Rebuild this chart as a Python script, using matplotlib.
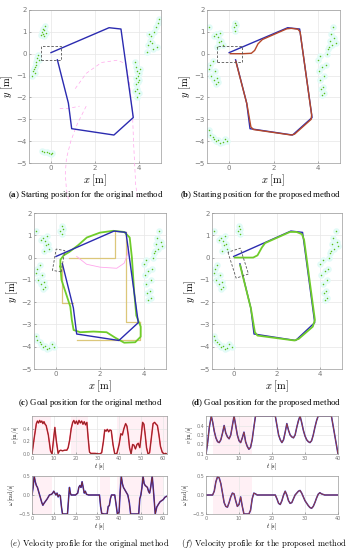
import numpy as np
import matplotlib
matplotlib.use('Agg')
import matplotlib.pyplot as plt
from matplotlib.patches import Rectangle

plt.rcParams['mathtext.fontset'] = 'custom'
plt.rcParams['mathtext.rm'] = 'Liberation Serif'
plt.rcParams['mathtext.bf'] = 'Liberation Serif:bold'
plt.rcParams['mathtext.it'] = 'Liberation Serif:italic'

# ---- data ----
# waypoints (blue polygon), same in all four maps
wp_x = [0.0, 2.64, 3.18, 3.74, 2.86, 0.94, 0.79, 0.29]
wp_y = [0.05, 1.19, 1.13, -2.92, -3.72, -3.43, -2.26, -0.28]

# lidar points, panel (a)
obs_a_x = [-0.45, -0.4, -0.35, -0.3, -0.28, -0.25, -0.38, -0.32,
           -0.85, -0.8, -0.75, -0.7, -0.72, -0.65, -0.6, -0.68, -0.78, -0.55,
           3.82, 3.85, 3.9, 3.95, 4.0, 3.88, 3.92, 3.98, 4.05, 3.86, 3.94, 4.02, 3.9, 3.84,
           4.35, 4.4, 4.5, 4.55, 4.6, 4.7, 4.75, 4.8, 4.85, 4.9, 4.45, 4.65,
           -0.4, -0.3, -0.2, -0.1, 0.0, 0.05]
obs_a_y = [0.85, 1.0, 0.9, 1.1, 1.25, 0.95, 1.15, 0.8,
           -1.0, -0.8, -0.6, -0.4, -0.9, -0.2, -0.05, -0.5, -0.7, -0.3,
           -0.4, -0.6, -0.8, -1.0, -1.2, -1.4, -1.6, -1.8, -0.7, -1.1, -1.3, -0.9, -2.0, -1.7,
           0.1, 0.4, 0.6, 0.8, 0.5, 1.0, 1.2, 0.3, 1.4, 1.6, 0.9, 0.2,
           -4.45, -4.5, -4.48, -4.55, -4.6, -4.52]

# lidar points, panels (b)-(d)
obs_x = [-0.7, -0.6, -0.5, -0.45, -0.35, -0.3, -0.55, -0.4, -0.9, 0.2, 0.25, 0.3, 0.28,
         -0.9, -0.85, -0.8, -0.7, -0.65, -0.6, -0.55, -0.75, -0.5,
         -0.9, -0.85, -0.7, -0.6, -0.5, -0.4, -0.3, -0.2, -0.1, -0.75,
         4.0, 4.05, 4.1, 4.15, 4.2, 4.25, 4.3, 4.35, 4.4, 4.5, 4.55, 4.6, 4.65,
         4.7, 4.75, 4.8, 4.45, 4.1, 4.2, 4.3]
obs_y = [0.8, 0.9, 0.75, 0.55, 0.6, 0.4, 0.3, 0.95, 1.2, 1.2, 1.4, 1.3, 1.05,
         -0.7, -0.5, -1.0, -1.2, -0.8, -1.4, -1.1, -0.35, -1.3,
         -3.5, -3.7, -3.9, -4.0, -3.95, -4.1, -4.05, -3.9, -4.0, -3.8,
         -0.3, -0.8, -1.2, -1.6, -1.9, -1.5, -1.0, -0.5, 0.0, 0.3, 0.6, 0.9, 0.4,
         1.2, 0.7, 0.5, 0.2, -0.1, -0.6, -1.8]

# robot footprint: centre x, centre y, width, height, angle
robot_a = (0.0, 0.03, 0.95, 0.68, 0)
robot_b = (0.02, -0.01, 1.12, 0.74, 0)
robot_c = (0.12, -0.13, 0.97, 0.4, 80)
robot_d = (0.21, -0.25, 1.22, 0.6, -72)

# pink dashed traces in (a) and (c)
pinkA_x = [1.1, 1.6, 2.3, 3.0, 3.4, 3.55, 3.7, 3.75, 3.8, 3.85, 3.95]
pinkA_y = [-1.6, -0.9, -0.4, -0.3, -0.45, -1.2, -2.6, -4.0, -5.0, -6.0, -6.7]
pinkB_x = [1.6, 1.2, 0.9, 0.7, 0.65, 0.7, 0.8]
pinkB_y = [-2.4, -3.2, -4.0, -4.8, -5.5, -6.2, -6.7]
pinkC_x = [0.4, 0.8, 1.3]
pinkC_y = [-2.5, -2.5, -2.4]
pinkD_x = [0.94, 1.39, 2.0, 2.76, 3.1, 3.24, 3.3]
pinkD_y = [0.05, -0.3, -0.43, -0.48, -0.25, 0.12, 0.5]

# proposed method path (b)
path_b_x = [0.05, 0.6, 1.0, 1.15, 1.3, 1.5, 2.6, 2.8, 3.1, 3.2, 3.72, 3.7, 2.95, 2.8,
            1.1, 0.98, 0.8, 0.3]
path_b_y = [0.0, 0.0, 0.02, 0.15, 0.45, 0.65, 1.14, 1.16, 1.12, 1.0, -2.8, -3.0, -3.68,
            -3.72, -3.47, -3.35, -2.3, -0.35]

# original method goal path (c)
path_c_x = [0.2, 0.2, 0.35, 0.6, 1.0, 1.4, 2.0, 2.6, 3.1, 3.35, 3.45, 3.55, 3.65, 3.85,
            3.85, 3.6, 3.1, 2.7, 2.3, 1.7, 1.1, 0.8, 0.72, 0.65, 0.45, 0.25, 0.2]
path_c_y = [-0.4, -0.1, 0.1, 0.25, 0.55, 0.9, 1.12, 1.2, 1.15, 0.9, 0.0, -1.5, -2.6, -3.1,
            -3.55, -3.8, -3.82, -3.6, -3.35, -3.32, -3.35, -3.25, -2.8, -2.2, -1.6, -1.0, -0.4]
# manhattan reference segments (c)
ref_segs = [([0.6, 2.68, 2.68], [0.0, 0.0, 1.15]),
            ([3.2, 3.2, 3.8], [1.15, -2.9, -2.9]),
            ([3.8, 3.8, 0.97], [-2.9, -3.7, -3.7]),
            ([0.27, 0.27, 0.76], [-0.25, -2.05, -2.05])]

# proposed method goal path (d)
path_d_x = [0.05, 0.9, 1.1, 1.3, 1.45, 2.6, 2.9, 3.15, 3.25, 3.75, 3.65, 3.0, 2.8, 1.1,
            0.98, 0.8, 0.3]
path_d_y = [0.0, 0.0, 0.1, 0.45, 0.65, 1.15, 1.15, 1.05, 0.8, -2.8, -3.1, -3.65, -3.72,
            -3.5, -3.35, -2.3, -0.35]

# velocity profiles, original method (e)
t_e = [0, 1, 2, 2.5, 3, 3.5, 4, 4.5, 5, 5.5, 6, 6.5, 7.5, 8.5, 9.2, 9.8, 10.5, 11.2, 12,
       12.6, 13.2, 14, 15, 16, 16.6, 17.3, 18, 18.7, 19.2, 19.8, 20.4, 21, 21.6, 22.2,
       22.8, 23.4, 24, 24.6, 25.2, 25.8, 26.4, 27, 29, 31, 32, 32.8, 33.4, 34, 34.6,
       35.2, 35.8, 36.4, 37.2, 38, 39, 40, 40.8, 41.5, 42.2, 43, 43.6, 44.2, 44.8, 45.5,
       46.2, 46.8, 47.5, 48.2, 48.8, 49.5, 50.2, 50.8, 51.4, 52, 52.6, 53.3, 54, 54.8,
       55.6, 56.3, 57, 57.6, 58.3, 59, 59.8, 60.6, 61.3, 62]
v_e = [0, 0.25, 0.48, 0.52, 0.49, 0.53, 0.5, 0.52, 0.48, 0.51, 0.47, 0.45, 0.3, 0.05,
       0.0, 0.2, 0.42, 0.2, 0.01, 0.05, 0.06, 0.05, 0.06, 0.06, 0.1, 0.22, 0.4, 0.5,
       0.53, 0.48, 0.52, 0.47, 0.53, 0.49, 0.52, 0.47, 0.51, 0.46, 0.5, 0.25, 0.03, 0.01,
       0.01, 0.0, 0.02, 0.2, 0.38, 0.36, 0.39, 0.35, 0.38, 0.37, 0.15, 0.0, 0.01, 0.15,
       0.32, 0.3, 0.4, 0.48, 0.44, 0.3, 0.1, 0.0, 0.15, 0.14, 0.08, 0.15, 0.17, 0.1,
       0.3, 0.5, 0.47, 0.3, 0.1, 0.0, 0.02, 0.25, 0.48, 0.5, 0.47, 0.45, 0.3, 0.12,
       0.03, 0.0, 0.01, 0.0]
tw_e = [0, 0.5, 1.0, 1.5, 2, 2.5, 3, 3.5, 4, 4.5, 5, 5.5, 6, 7, 7.5, 8, 9, 9.5, 10, 10.5,
        11, 11.5, 12, 12.5, 13, 13.5, 14, 15, 16.3, 16.8, 17.2, 17.6, 18, 20, 21, 21.5,
        22, 22.5, 23, 23.5, 24, 24.5, 25, 26, 31, 31.5, 32, 33, 34.5, 35, 35.5, 36, 36.5,
        38, 38.5, 39.2, 40, 40.5, 41, 41.5, 42, 42.5, 43, 43.5, 44, 44.7, 45.3, 49, 49.5,
        50, 50.5, 51, 51.5, 52, 53, 53.5, 54, 54.5, 55.2, 55.8, 56.6, 57.3, 58, 58.8,
        59.5, 60.3, 61, 62]
w_e = [0, 0.2, 0.5, 0.35, 0.25, 0.2, 0.1, 0.0, -0.1, -0.2, -0.27, -0.22, -0.18, -0.1,
       -0.05, 0.0, 0.02, 0.05, 0.1, 0.05, 0.0, 0.05, -0.05, 0.0, -0.02, -0.3, -0.5, -0.5,
       -0.5, -0.1, 0.2, 0.05, 0.0, 0.0, 0.05, 0.2, 0.25, 0.2, 0.35, 0.2, 0.05, 0.1, 0.02,
       0.0, 0.0, -0.3, -0.48, -0.5, -0.5, -0.3, -0.28, -0.1, 0.0, 0.0, -0.2, -0.5, -0.45,
       0.1, 0.5, 0.3, 0.2, 0.15, 0.1, 0.05, 0.0, -0.2, -0.5, -0.5, -0.1, 0.0, 0.2, 0.5,
       0.3, 0.25, 0.2, 0.1, 0.05, 0.2, 0.5, 0.1, -0.5, -0.32, -0.25, -0.18, -0.15, -0.12,
       -0.06, -0.03]

# velocity profiles, proposed method (f)
t_f = [0, 0.5, 1, 1.6, 2, 2.5, 3, 3.5, 4, 4.5, 5, 5.5, 6, 6.5, 7, 7.5, 8, 8.5, 9, 9.5,
       10, 10.5, 11, 11.5, 12, 12.5, 13, 13.5, 14, 14.5, 15, 21, 21.5, 22, 22.5, 23,
       23.5, 24, 24.5, 25, 25.5, 26, 26.5, 27, 27.5, 28, 28.5, 29, 29.5, 30, 30.5, 31,
       31.5, 32, 32.5, 33, 33.5, 34, 38, 39, 40]
v_f = [0.1, 0.22, 0.38, 0.5, 0.44, 0.34, 0.27, 0.23, 0.22, 0.25, 0.32, 0.4, 0.32, 0.28,
       0.26, 0.3, 0.4, 0.5, 0.4, 0.3, 0.24, 0.22, 0.27, 0.33, 0.23, 0.18, 0.15, 0.17,
       0.25, 0.38, 0.5, 0.5, 0.4, 0.3, 0.25, 0.22, 0.25, 0.33, 0.42, 0.35, 0.3, 0.28,
       0.27, 0.3, 0.38, 0.45, 0.5, 0.43, 0.35, 0.29, 0.25, 0.23, 0.22, 0.24, 0.3, 0.38,
       0.45, 0.5, 0.5, 0.3, 0.1]
tw_f = [0, 2, 2.5, 3, 3.5, 4, 4.5, 5, 5.5, 6, 6.5, 7, 7.5, 8, 8.5, 9, 9.5, 10, 10.5, 11,
        11.5, 13, 13.5, 14, 14.5, 15, 15.5, 21, 21.5, 22, 22.5, 23, 23.5, 24, 24.5, 25,
        25.5, 26, 26.5, 27, 28, 28.5, 29, 29.5, 30, 31, 31.5, 32, 32.5, 33, 33.5, 34,
        34.5, 35, 36, 40]
w_f = [0, 0, 0.1, 0.35, 0.48, 0.45, 0.3, 0.05, -0.2, -0.3, -0.32, -0.2, -0.05, 0.05,
       0.03, -0.15, -0.3, -0.25, -0.05, -0.3, -0.5, -0.5, -0.4, -0.1, 0.05, 0.03, 0.0,
       0.0, -0.1, -0.22, -0.25, -0.15, 0.0, 0.1, 0.0, -0.15, -0.22, -0.2, -0.1, 0.0, 0.1,
       0.12, 0.05, -0.05, -0.15, -0.28, -0.33, -0.35, -0.3, -0.2, -0.08, 0.02, 0.06,
       0.03, 0.0, 0.0]

# ---- figure ----
W, H = 350, 550
fig = plt.figure(figsize=(W / 100, H / 100), dpi=100)


def box(l, t, r, b):
    return [l / W, 1 - b / H, (r - l) / W, (b - t) / H]


def style(ax, size):
    ax.tick_params(labelsize=size, colors='#777777', direction='in', length=1.5,
                   width=0.4, pad=1.5)
    for s in ax.spines.values():
        s.set_color('#9a9a9a')
        s.set_linewidth(0.5)
    ax.grid(True, color='#e6e6e6', lw=0.5)
    ax.set_axisbelow(True)


def traj(rect, ox, oy, robot):
    ax = fig.add_axes(rect)
    ax.set_xlim(-1, 5)
    ax.set_ylim(-5, 2)
    ax.set_xticks([0, 2, 4])
    ax.set_yticks(range(-5, 3))
    style(ax, 5)
    ax.scatter(ox, oy, s=22, color='#e2fbf7', lw=0, zorder=1)
    ax.scatter(ox, oy, s=1.2, color='#5cbf1a', lw=0, zorder=2)
    cx, cy, w, h, a = robot
    ax.add_patch(Rectangle((cx - w / 2, cy - h / 2), w, h, angle=a,
                           rotation_point='center', fill=False, ec='#555555',
                           lw=0.6, ls=(0, (3, 2)), zorder=5))
    ax.set_xlabel(r'$x\ [\mathrm{m}]$', fontsize=7.5, math_fontfamily='cm', labelpad=1)
    ax.set_ylabel(r'$y\ [\mathrm{m}]$', fontsize=7.5, math_fontfamily='cm', labelpad=1)
    return ax


blue = '#2b2bb0'
pink = '#ffa6ec'
ax_a = traj(box(29, 10, 161, 163), obs_a_x, obs_a_y, robot_a)
for px, py in [(pinkA_x, pinkA_y), (pinkB_x, pinkB_y), (pinkC_x, pinkC_y)]:
    ax_a.plot(px, py, color=pink, lw=0.5, ls=(0, (5, 4)), clip_on=False, zorder=3)
ax_a.plot(wp_x, wp_y, color=blue, lw=1.0, zorder=4)

ax_b = traj(box(207, 10, 340, 163), obs_x, obs_y, robot_b)
ax_b.plot(wp_x, wp_y, color=blue, lw=1.0, zorder=4)
ax_b.plot(path_b_x, path_b_y, color='#b5482a', lw=1.0, zorder=4)

ax_c = traj(box(34, 213, 166, 369), obs_x, obs_y, robot_c)
for xs, ys in ref_segs:
    ax_c.plot(xs, ys, color='#dcc77a', lw=0.9, zorder=3)
ax_c.plot(pinkD_x, pinkD_y, color=pink, lw=0.6, zorder=3)
ax_c.plot(path_c_x, path_c_y, color='#6fcc2a', lw=1.3, zorder=4)
ax_c.plot(wp_x, wp_y, color=blue, lw=1.0, zorder=4)

ax_d = traj(box(212, 213, 342, 369), obs_x, obs_y, robot_d)
ax_d.plot(wp_x, wp_y, color=blue, lw=1.0, zorder=4)
ax_d.plot(path_d_x, path_d_y, color='#6fcc2a', lw=1.3, zorder=4)


def vel(rect, t, y, xmax, ylim, yticks, ylabel, c1, c2, spans):
    ax = fig.add_axes(rect)
    ax.set_xlim(0, xmax)
    ax.set_ylim(*ylim)
    ax.set_xticks(range(0, xmax + 1, 10))
    ax.set_yticks(yticks)
    style(ax, 3.5)
    for s0, s1 in spans:
        ax.axvspan(s0, s1, color='#fff0f5', lw=0, zorder=0)
    ax.plot(t, y, color=c1, lw=1.1)
    ax.plot(t, y, color=c2, lw=0.6)
    ax.set_xlabel(r'$t\ [\mathrm{s}]$', fontsize=4.5, math_fontfamily='cm', labelpad=0.5)
    ax.set_ylabel(ylabel, fontsize=4, math_fontfamily='cm', labelpad=1)
    return ax


vel(box(32, 416, 167, 454), t_e, v_e, 62, (0, 0.6), [0, 0.2, 0.4],
    r'$v\ [\mathrm{m/s}]$', '#ff3355', '#7a2a22', [(0, 8.7), (17.7, 25.5), (39, 62)])
vel(box(32, 476, 167, 514), tw_e, w_e, 62, (-0.5, 0.5), [-0.5, 0, 0.5],
    r'$\omega\ [\mathrm{rad/s}]$', '#3030dd', '#7a2a22', [(0, 9), (31, 36), (39, 60)])
vel(box(206, 416, 338, 454), t_f, v_f, 40, (0.1, 0.5), [0.1, 0.2, 0.3, 0.4],
    r'$v\ [\mathrm{m/s}]$', '#3030cc', '#a0402a', [(2, 14)])
vel(box(206, 476, 338, 514), tw_f, w_f, 40, (-0.5, 0.5), [-0.5, 0, 0.5],
    r'$\omega\ [\mathrm{rad/s}]$', '#3030cc', '#a0402a', [(2, 14)])

# ---- captions ----
caps = [(86, 195, r'($\mathbf{a}$) Starting position for the original method'),
        (260, 195, r'($\mathbf{b}$) Starting position for the proposed method'),
        (90, 403, r'($\mathbf{c}$) Goal position for the original method'),
        (266, 403, r'($\mathbf{d}$) Goal position for the proposed method')]
for x, y, s in caps:
    fig.text(x / W, 1 - y / H, s, ha='center', va='center', fontsize=6.3,
             family='Liberation Serif')
caps2 = [(89, 543, r'$\mathrm{(}e\mathrm{)\ Velocity\ profile\ for\ the\ original\ method}$'),
         (264, 543, r'$\mathrm{(}f\mathrm{)\ Velocity\ profile\ for\ the\ proposed\ method}$')]
for x, y, s in caps2:
    fig.text(x / W, 1 - y / H, s, ha='center', va='center', fontsize=6.2,
             math_fontfamily='cm')

fig.savefig('out.png', dpi=100)
